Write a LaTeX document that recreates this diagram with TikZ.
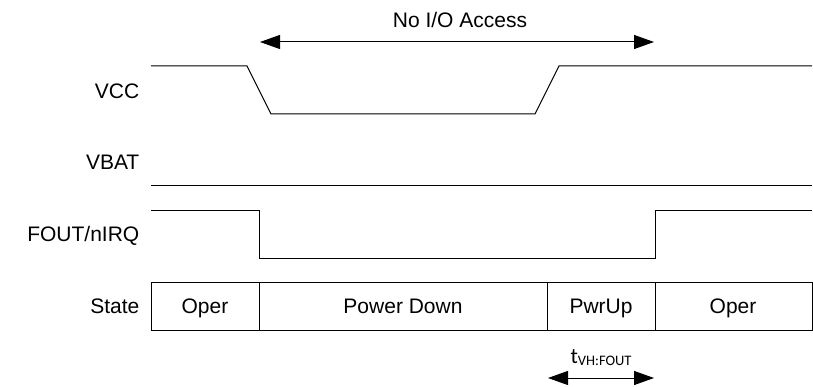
\documentclass[tikz,border=0pt]{standalone}
\usepackage{fontspec}
\setmainfont{Liberation Sans}
\newfontfamily\calib{Carlito}
\usetikzlibrary{arrows.meta}
\begin{document}
\begin{tikzpicture}[x=1pt,y=-1pt,
  wave/.style={line width=1pt,black},
  lbl/.style={font=\fontsize{21}{24}\selectfont,inner sep=0pt,anchor=base},
  rlbl/.style={lbl,anchor=base east},
  dimarrow/.style={line width=1pt,{Triangle[length=20pt,width=14pt]}-{Triangle[length=20pt,width=14pt]}}]
\useasboundingbox (0,0) rectangle (813,387);
% title and arrow
\node[lbl] (title) at (460,27.7) {No I/O Access};
\coordinate (aL) at (260,42);
\coordinate (aR) at (654,42);
\draw[dimarrow] (aL) -- (aR);
% labels
\node[rlbl] (vcc) at (139.5,98.3) {VCC};
\node[rlbl] (vbat) at (139.5,169.3) {VBAT};
\node[rlbl] (fout) at (139.5,241) {FOUT/nIRQ};
\node[rlbl] (state) at (139.5,313.3) {State};
% VCC waveform
\coordinate (v0) at (151,66);
\coordinate (v1) at (247,66);
\coordinate (v2) at (271,114);
\coordinate (v3) at (535,114);
\coordinate (v4) at (559,66);
\coordinate (v5) at (812,66);
\draw[wave] (v0) -- (v1) -- (v2) -- (v3) -- (v4) -- (v5);
% VBAT
\coordinate (b0) at (151,186);
\coordinate (b1) at (812,186);
\draw[wave] (b0) -- (b1);
% FOUT
\coordinate (f0) at (151,211);
\coordinate (f1) at (259,211);
\coordinate (f2) at (259,258);
\coordinate (f3) at (655,258);
\coordinate (f4) at (655,211);
\coordinate (f5) at (812,211);
\draw[wave] (f0) -- (f1) -- (f2) -- (f3) -- (f4) -- (f5);
% State boxes
\draw[wave] (151,282) rectangle (812,330);
\draw[wave] (259,282) -- (259,330);
\draw[wave] (547,282) -- (547,330);
\draw[wave] (655,282) -- (655,330);
\node[lbl] (s1) at (205,313.3) {Oper};
\node[lbl] (s2) at (403,313.3) {Power Down};
\node[lbl] (s3) at (601,313.3) {PwrUp};
\node[lbl] (s4) at (733,313.3) {Oper};
% tVH:FOUT
\node[inner sep=0pt,anchor=base,font=\calib\fontsize{22}{24}\selectfont] (tvh) at (601,363) {t\raisebox{-2pt}{\fontsize{14.5}{16}\selectfont VH:FOUT}};
\coordinate (tL) at (548,378);
\coordinate (tR) at (654,378);
\draw[dimarrow] (tL) -- (tR);
\end{tikzpicture}
\end{document}
